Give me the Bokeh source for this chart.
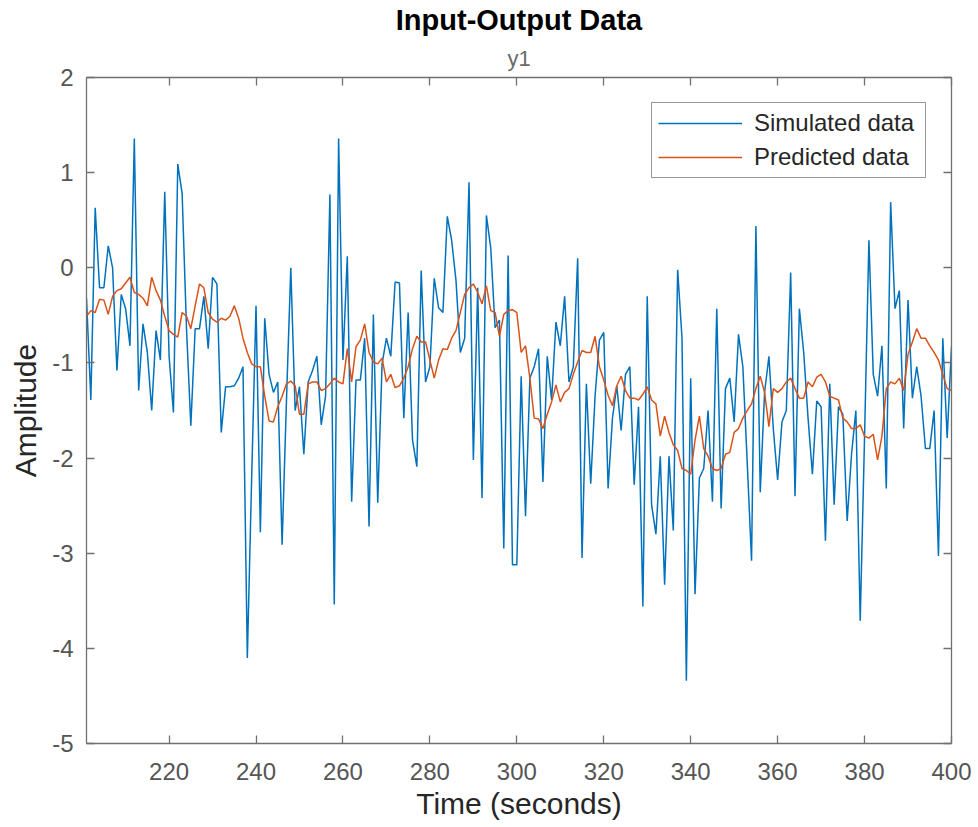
from bokeh.plotting import figure
from bokeh.models import Range1d, LinearAxis, FixedTicker, Title, Legend, LegendItem, ColumnDataSource
from bokeh.embed import file_html
from bokeh.resources import INLINE

# ---- data ----
time_s = list(range(201, 401))

simulated = [
    -0.32, -1.39, 0.63, -0.21, -0.21, 0.23, 0.00, -1.08, -0.28, -0.43,
    -0.82, 1.36, -1.29, -0.59, -0.89, -1.50, -0.66, -0.97, 0.80, -0.93,
    -1.52, 1.09, 0.78, -0.63, -1.66, -0.64, -0.64, -0.30, -0.85, -0.10,
    -0.17, -1.73, -1.25, -1.25, -1.24, -1.16, -1.04, -4.10, -2.20, -0.40,
    -2.78, -0.53, -1.12, -1.31, -1.20, -2.91, -1.40, 0.00, -1.50, -1.25,
    -1.96, -1.20, -1.08, -0.93, -1.65, -1.35, 0.77, -3.54, 1.36, -0.97,
    0.12, -2.46, -1.18, -1.18, -0.74, -2.72, -0.49, -2.47, -1.01, -0.74,
    -0.93, -0.15, -0.16, -1.58, -0.47, -1.81, -2.09, -0.03, -1.20, -1.04,
    -0.11, -0.42, -0.47, 0.54, 0.29, -0.13, -0.89, -0.74, 0.90, -2.02,
    -0.21, -2.42, 0.55, 0.21, -0.63, -0.55, -2.95, 0.13, -3.12, -3.12,
    -1.14, -2.61, -1.16, -1.04, -0.85, -2.25, -0.93, -1.39, -0.57, -0.82,
    -0.30, -1.20, -1.04, 0.10, -3.05, -1.22, -2.27, -1.35, -0.76, -0.68,
    -2.32, -1.58, -1.24, -1.71, -1.12, -1.04, -2.28, -1.46, -3.56, -0.30,
    -2.49, -2.80, -1.98, -3.33, -1.98, -2.76, -0.02, -0.74, -4.34, -1.16,
    -3.43, -2.21, -2.11, -1.50, -2.46, -0.43, -2.53, -1.27, -1.16, -1.62,
    -0.70, -1.04, -2.04, -3.08, 0.44, -2.36, -1.31, -0.93, -1.69, -2.23,
    -1.62, -1.50, -0.05, -2.40, -0.43, -0.89, -1.58, -2.17, -1.40, -1.46,
    -2.87, -1.22, -2.49, -1.46, -1.54, -2.66, -1.96, -1.50, -3.71, -1.77,
    0.29, -1.12, -1.35, -0.82, -2.32, 0.69, -0.43, -0.24, -1.69, -0.34,
    -1.37, -1.04, -1.35, -1.90, -1.90, -1.50, -3.03, -0.74, -1.79, -0.83,
]

predicted = [
    -0.51, -0.45, -0.47, -0.33, -0.34, -0.49, -0.30, -0.24, -0.22, -0.16,
    -0.10, -0.26, -0.28, -0.32, -0.40, -0.10, -0.24, -0.34, -0.51, -0.66,
    -0.70, -0.73, -0.47, -0.51, -0.64, -0.40, -0.17, -0.21, -0.47, -0.54,
    -0.57, -0.53, -0.55, -0.51, -0.40, -0.53, -0.74, -0.89, -1.01, -1.04,
    -1.04, -1.35, -1.61, -1.62, -1.46, -1.35, -1.22, -1.19, -1.24, -1.54,
    -1.54, -1.22, -1.20, -1.20, -1.29, -1.27, -1.22, -1.16, -1.20, -1.22,
    -0.85, -1.20, -0.83, -0.76, -0.59, -0.89, -0.99, -1.01, -0.95, -1.20,
    -1.12, -1.26, -1.24, -1.16, -1.04, -0.85, -0.72, -0.78, -0.78, -0.97,
    -1.16, -0.97, -0.85, -0.86, -0.74, -0.66, -0.47, -0.28, -0.21, -0.17,
    -0.26, -0.38, -0.19, -0.45, -0.47, -0.72, -0.49, -0.45, -0.44, -0.47,
    -0.89, -0.82, -1.16, -1.58, -1.59, -1.69, -1.54, -1.41, -1.23, -1.41,
    -1.31, -1.27, -1.12, -0.99, -0.87, -0.89, -0.89, -0.72, -1.04, -1.18,
    -1.34, -1.45, -1.24, -1.14, -1.29, -1.37, -1.37, -1.39, -1.33, -1.25,
    -1.39, -1.43, -1.77, -1.56, -1.73, -1.86, -1.92, -2.11, -2.13, -2.17,
    -1.81, -1.56, -1.90, -1.98, -2.11, -2.13, -2.11, -1.96, -1.94, -1.73,
    -1.69, -1.58, -1.50, -1.43, -1.27, -1.14, -1.31, -1.67, -1.27, -1.31,
    -1.27, -1.20, -1.16, -1.27, -1.37, -1.37, -1.20, -1.25, -1.15, -1.12,
    -1.20, -1.35, -1.37, -1.39, -1.58, -1.62, -1.69, -1.69, -1.65, -1.77,
    -1.79, -1.75, -2.02, -1.77, -1.27, -1.20, -1.22, -1.16, -1.29, -0.91,
    -0.78, -0.64, -0.74, -0.74, -0.82, -0.89, -0.97, -1.12, -1.27, -1.29,
]

x_ticks = [220, 240, 260, 280, 300, 320, 340, 360, 380, 400]
y_ticks = [-5, -4, -3, -2, -1, 0, 1, 2]

title_text = "Input-Output Data"
subtitle_text = "y1"
x_label = "Time (seconds)"
y_label = "Amplitude"
series_names = ["Simulated data", "Predicted data"]

# ---- styling ----
FONT = "Liberation Sans"
BLUE = "#0072BD"
ORANGE = "#D95319"
AXIS_C = "#707070"
TICKLAB_C = "#555555"
TEXT_C = "#262626"

src = ColumnDataSource(dict(t=time_s, sim=simulated, pred=predicted))

p = figure(
    width=978, height=827,
    output_backend="svg", toolbar_location=None,
    x_range=Range1d(201, 400), y_range=Range1d(-5, 2),
    min_border_left=86, min_border_right=27,
    min_border_top=77, min_border_bottom=84,
    title=None,
)
p.background_fill_color = "white"
p.border_fill_color = "white"
p.outline_line_color = None
p.xgrid.visible = False
p.ygrid.visible = False

r1 = p.line("t", "sim", source=src, line_color=BLUE, line_width=1.5)
r2 = p.line("t", "pred", source=src, line_color=ORANGE, line_width=1.5)


def style_axis(ax, ticks, show_labels=True):
    ax.ticker = FixedTicker(ticks=ticks)
    ax.axis_line_color = AXIS_C
    ax.axis_line_width = 1.3
    ax.major_tick_line_color = AXIS_C
    ax.major_tick_line_width = 1.3
    ax.major_tick_in = 8
    ax.major_tick_out = 0
    ax.minor_tick_in = 0
    ax.minor_tick_out = 0
    ax.minor_tick_line_color = None
    if show_labels:
        ax.major_label_text_font = FONT
        ax.major_label_text_font_size = "24px"
        ax.major_label_text_color = TICKLAB_C
        ax.major_label_overrides = {v: str(v) for v in ticks}
    else:
        ax.major_label_text_color = None
        ax.major_label_text_font_size = "1px"
        ax.major_label_standoff = 0


xax = p.xaxis[0]
yax = p.yaxis[0]
style_axis(xax, x_ticks)
style_axis(yax, y_ticks)
xax.major_label_standoff = 19
yax.major_label_standoff = 13

xax.axis_label = x_label
xax.axis_label_text_font = FONT
xax.axis_label_text_font_size = "30px"
xax.axis_label_text_font_style = "normal"
xax.axis_label_text_color = TEXT_C
xax.axis_label_standoff = 4

yax.axis_label = y_label
yax.axis_label_text_font = FONT
yax.axis_label_text_font_size = "30px"
yax.axis_label_text_font_style = "normal"
yax.axis_label_text_color = TEXT_C
yax.axis_label_standoff = 7

top_ax = LinearAxis()
style_axis(top_ax, x_ticks, show_labels=False)
right_ax = LinearAxis()
style_axis(right_ax, y_ticks, show_labels=False)
p.add_layout(top_ax, "above")
p.add_layout(right_ax, "right")

p.add_layout(Title(text=subtitle_text, align="center", text_font=FONT,
                   text_font_size="22px", text_font_style="normal",
                   text_color="#6a6a6a", standoff=13), "above")
p.add_layout(Title(text=title_text, align="center", text_font=FONT,
                   text_font_size="29px", text_font_style="bold",
                   text_color="#000000", standoff=3), "above")

legend = Legend(
    items=[LegendItem(label=series_names[0], renderers=[r1]),
           LegendItem(label=series_names[1], renderers=[r2])],
    location="top_right", margin=25,
    border_line_color="#303030", border_line_width=1.3,
    background_fill_color="white", background_fill_alpha=1.0,
    label_text_font=FONT, label_text_font_size="24px",
    label_text_color=TEXT_C,
    glyph_width=84, glyph_height=24, label_height=24,
    label_standoff=12, padding=6, spacing=6, label_width=165,
)
p.add_layout(legend, "center")

open("out.html", "w").write(file_html(p, INLINE))
